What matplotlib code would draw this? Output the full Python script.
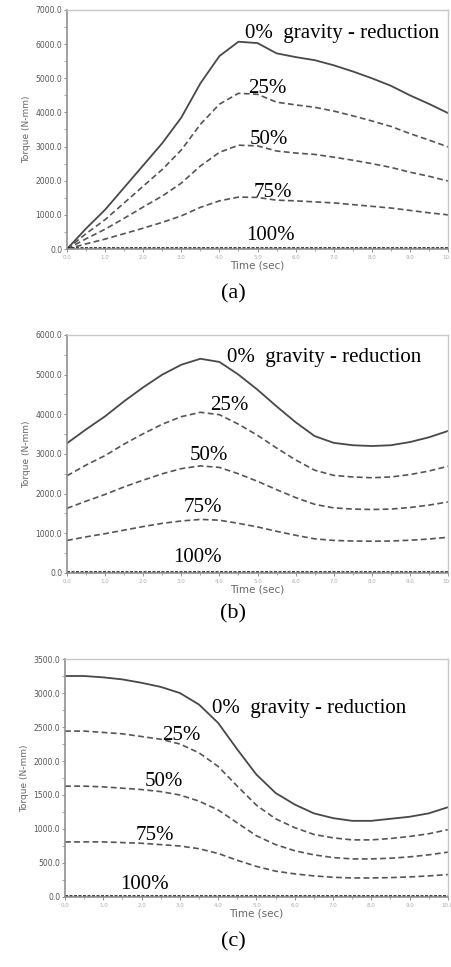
import matplotlib
matplotlib.use('Agg')
import matplotlib.pyplot as plt
import numpy as np
from matplotlib.ticker import MultipleLocator, FormatStrFormatter

# time axis, every 0.5 s
t = [0.0, 0.5, 1.0, 1.5, 2.0, 2.5, 3.0, 3.5, 4.0, 4.5, 5.0,
     5.5, 6.0, 6.5, 7.0, 7.5, 8.0, 8.5, 9.0, 9.5, 10.0]

# (a) torque in N-mm
a_0   = [0, 600, 1150, 1800, 2450, 3100, 3850, 4850, 5650, 6070, 6030,
         5730, 5620, 5530, 5380, 5200, 5000, 4780, 4500, 4250, 3980]
a_25  = [0, 450, 860, 1350, 1840, 2330, 2900, 3650, 4240, 4560, 4530,
         4300, 4220, 4150, 4040, 3900, 3750, 3590, 3380, 3190, 2990]
a_50  = [0, 300, 580, 900, 1230, 1550, 1930, 2430, 2830, 3040, 3020,
         2870, 2810, 2770, 2690, 2600, 2500, 2390, 2250, 2130, 1990]
a_75  = [0, 150, 290, 450, 610, 780, 970, 1220, 1410, 1520, 1510,
         1430, 1410, 1380, 1350, 1300, 1250, 1200, 1130, 1060, 1000]
a_100 = [30]*21

# (b)
b_0   = [3270, 3620, 3950, 4330, 4680, 5000, 5250, 5400, 5320, 5000, 4620,
         4200, 3800, 3450, 3280, 3220, 3200, 3220, 3300, 3420, 3580]
b_25  = [2450, 2720, 2960, 3250, 3510, 3750, 3940, 4050, 3990, 3750, 3470,
         3150, 2850, 2590, 2460, 2420, 2400, 2420, 2480, 2570, 2690]
b_50  = [1630, 1810, 1980, 2170, 2340, 2500, 2630, 2700, 2660, 2500, 2310,
         2100, 1900, 1730, 1640, 1610, 1600, 1610, 1650, 1710, 1790]
b_75  = [820, 910, 990, 1080, 1170, 1250, 1310, 1350, 1330, 1250, 1160,
         1050, 950, 860, 820, 805, 800, 805, 825, 855, 900]
b_100 = [30]*21

# (c)
c_0   = [3250, 3250, 3230, 3200, 3150, 3090, 3000, 2830, 2560, 2170, 1800,
         1530, 1360, 1230, 1160, 1120, 1120, 1150, 1180, 1230, 1320]
c_25  = [2440, 2440, 2420, 2400, 2360, 2320, 2250, 2120, 1920, 1630, 1350,
         1150, 1020, 920, 870, 840, 840, 860, 890, 930, 990]
c_50  = [1630, 1630, 1620, 1600, 1580, 1550, 1500, 1410, 1280, 1090, 900,
         770, 680, 620, 580, 560, 560, 570, 590, 620, 660]
c_75  = [810, 810, 810, 800, 790, 770, 750, 710, 640, 540, 450,
         380, 340, 310, 290, 280, 280, 285, 295, 310, 330]
c_100 = [15]*21

panels = [
    dict(series=[a_0, a_25, a_50, a_75, a_100], ymax=7000, ystep=1000,
         labels=[(4.67, 6300), (4.75, 4700), (4.8, 3200), (4.9, 1640), (4.7, 410)],
         rect=[0.1486, 0.7425, 0.8448, 0.2472], cap='(a)', capy=0.686),
    dict(series=[b_0, b_25, b_50, b_75, b_100], ymax=6000, ystep=1000,
         labels=[(4.2, 5420), (3.75, 4230), (3.23, 2950), (3.07, 1640), (2.78, 380)],
         rect=[0.1486, 0.4075, 0.8448, 0.2461], cap='(b)', capy=0.355),
    dict(series=[c_0, c_25, c_50, c_75, c_100], ymax=3500, ystep=500,
         labels=[(3.84, 2770), (2.53, 2380), (2.09, 1700), (1.85, 910), (1.44, 180)],
         rect=[0.1441, 0.0724, 0.8490, 0.2461], cap='(c)', capy=0.016),
]
names = ['0%  gravity - reduction', '25%', '50%', '75%', '100%']

fig = plt.figure(figsize=(4.51, 9.67), dpi=100)
grey = '#808080'

for p in panels:
    ax = fig.add_axes(p['rect'])
    s = p['series']
    ax.plot(t, s[0], color='#484848', lw=1.3)
    for y in s[1:4]:
        ax.plot(t, y, color='#555555', lw=1.2, dashes=(3.5, 2))
    ax.plot(t, s[4], color='#202020', lw=1.2, dashes=(1.8, 0.9))
    ax.set_xlim(0, 10)
    ax.set_ylim(0, p['ymax'])
    ax.xaxis.set_major_locator(MultipleLocator(1))
    ax.xaxis.set_minor_locator(MultipleLocator(0.5))
    ax.yaxis.set_major_locator(MultipleLocator(p['ystep']))
    ax.yaxis.set_minor_locator(MultipleLocator(p['ystep'] / 2))
    ax.xaxis.set_major_formatter(FormatStrFormatter('%.1f'))
    ax.yaxis.set_major_formatter(FormatStrFormatter('%.1f'))
    ax.tick_params(axis='x', which='major', labelsize=4, colors=grey,
                   labelcolor='#aaaaaa', length=2, width=0.6, pad=2)
    ax.tick_params(axis='x', which='minor', length=1.5, width=0.5, colors=grey)
    ax.tick_params(axis='y', which='major', labelsize=5.5, colors=grey,
                   labelcolor='#555555', length=2.5, width=0.6, pad=1)
    ax.tick_params(axis='y', which='minor', length=2.5, width=0.5, colors=grey)
    for side in ['left', 'bottom']:
        ax.spines[side].set_color('#909090')
        ax.spines[side].set_linewidth(1.2)
    for side in ['top', 'right']:
        ax.spines[side].set_color('#c8c8c8')
        ax.spines[side].set_linewidth(1.0)
    ax.set_xlabel('Time (sec)', fontsize=7.5, color='#666666', labelpad=1)
    ax.set_ylabel('Torque (N-mm)', fontsize=6.5, color='#666666', labelpad=3)
    for name, (lx, ly) in zip(names, p['labels']):
        ax.text(lx, ly, name, ha='left', va='center', fontsize=15,
                family='Liberation Serif', color='black')
    fig.text(0.517, p['capy'], p['cap'], ha='center', va='bottom',
             fontsize=16, family='Liberation Serif')

fig.savefig('out.png', dpi=100)
